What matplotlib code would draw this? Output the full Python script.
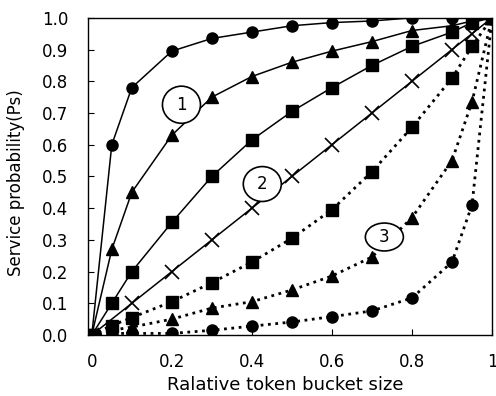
import matplotlib
matplotlib.use('Agg')
import matplotlib.pyplot as plt
from matplotlib.patches import Ellipse

plt.rcParams['font.family'] = ['DejaVu Sans']

# relative token bucket size
xs = [0, 0.05, 0.1, 0.2, 0.3, 0.4, 0.5, 0.6, 0.7, 0.8, 0.9, 0.95, 1.0]

# group 1 (solid)
solid_circle = [0, 0.60, 0.78, 0.895, 0.935, 0.955, 0.975, 0.985, 0.99, 1.0, 1.0, 1.0, 1.0]
solid_triangle = [0, 0.27, 0.45, 0.63, 0.75, 0.815, 0.86, 0.895, 0.925, 0.96, 0.975, 0.99, 1.0]
solid_square = [0, 0.10, 0.20, 0.355, 0.50, 0.615, 0.705, 0.78, 0.85, 0.91, 0.955, 0.985, 1.0]

# group 2 (linear)
x_cross = [0, 0.1, 0.2, 0.3, 0.4, 0.5, 0.6, 0.7, 0.8, 0.9, 0.95, 1.0]
y_cross = [0, 0.1, 0.2, 0.3, 0.4, 0.5, 0.6, 0.7, 0.8, 0.9, 0.95, 1.0]

# group 3 (dotted)
dot_square = [0, 0.03, 0.055, 0.105, 0.165, 0.23, 0.305, 0.395, 0.515, 0.655, 0.81, 0.91, 1.0]
dot_triangle = [0, 0.015, 0.025, 0.05, 0.085, 0.105, 0.142, 0.186, 0.246, 0.37, 0.55, 0.735, 1.0]
dot_circle = [0, 0.005, 0.005, 0.005, 0.015, 0.028, 0.041, 0.058, 0.076, 0.117, 0.23, 0.41, 1.0]

# group label positions (x, y, text, height)
labels = [(0.224, 0.726, '1', 0.117), (0.426, 0.476, '2', 0.11), (0.731, 0.309, '3', 0.088)]

fig = plt.figure(figsize=(4.96, 3.96), dpi=100)
ax = fig.add_axes([0.177, 0.154, 0.815, 0.801])

ms = 8
ax.plot(xs, solid_circle, '-', color='black', lw=1.1, marker='o', ms=ms)
ax.plot(xs, solid_triangle, '-', color='black', lw=1.1, marker='^', ms=ms + 1)
ax.plot(xs, solid_square, '-', color='black', lw=1.1, marker='s', ms=ms)
ax.plot(x_cross, y_cross, '-', color='black', lw=1.1, marker='x', ms=10, mew=1.2)
ax.plot(xs, dot_square, ':', color='black', lw=2, marker='s', ms=ms)
ax.plot(xs, dot_triangle, ':', color='black', lw=2, marker='^', ms=ms + 1)
ax.plot(xs, dot_circle, ':', color='black', lw=2, marker='o', ms=ms)

for lx, ly, txt, h in labels:
    ax.add_patch(Ellipse((lx, ly), 0.095, h, facecolor='white', edgecolor='black', lw=1.2, zorder=5))
    ax.text(lx, ly, txt, ha='center', va='center', fontsize=12, zorder=6)

ax.set_xlim(-0.01, 1.0)
ax.set_ylim(0, 1.0)
ax.set_xticks([0, 0.2, 0.4, 0.6, 0.8, 1.0])
ax.set_xticklabels(['0', '0.2', '0.4', '0.6', '0.8', '1'])
ax.set_yticks([i / 10 for i in range(11)])
ax.set_yticklabels(['%.1f' % (i / 10) for i in range(11)])
ax.tick_params(direction='in', length=4, labelsize=12)
ax.tick_params(axis='y', pad=14)
ax.tick_params(axis='x', pad=13)
for s in ax.spines.values():
    s.set_linewidth(1.0)

ax.set_xlabel('Ralative token bucket size', fontsize=13)
ax.set_ylabel('Service probability(Ps)', fontsize=12)
ax.xaxis.set_label_coords(0.488, -0.158)
ax.xaxis.label.set_va('center')
ax.yaxis.set_label_coords(-0.155, 0.481)

fig.savefig('out.png', dpi=100)
